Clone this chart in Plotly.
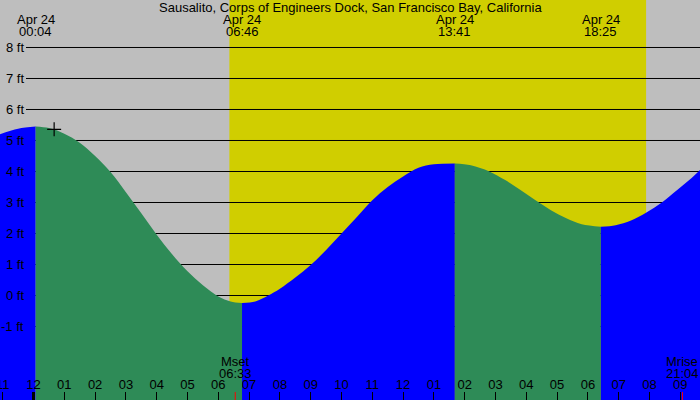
import plotly.graph_objects as go

# ---------------- data ----------------
title_text = "Sausalito, Corps of Engineers Dock, San Francisco Bay, California"

# hours since local midnight, Apr 24  /  tide height in ft
tide_hours = [-1.09, -0.5, 0.07, 0.5, 1.0, 1.5, 2.0, 2.5, 3.0, 3.5, 4.0, 4.5, 5.0, 5.5, 6.0, 6.4, 6.77,
              7.2, 7.62, 8.0, 8.5, 9.0, 9.5, 10.0, 10.5, 11.0, 11.5, 12.0, 12.5, 13.0, 13.68,
              14.2, 14.8, 15.3, 15.8, 16.3, 16.8, 17.3, 17.8, 18.42,
              18.9, 19.4, 19.9, 20.4, 20.9, 21.3, 21.64]
tide_feet = [5.20, 5.38, 5.45, 5.40, 5.22, 4.93, 4.50, 3.98, 3.33, 2.65, 1.96, 1.33, 0.78, 0.33, -0.03, -0.19, -0.24,
             -0.19, 0.00, 0.22, 0.58, 0.98, 1.47, 2.00, 2.53, 3.07, 3.50, 3.84, 4.12, 4.23, 4.26,
             4.20, 4.00, 3.73, 3.41, 3.07, 2.75, 2.49, 2.30, 2.22,
             2.27, 2.42, 2.68, 3.00, 3.40, 3.73, 4.05]

extreme_hours = [0.07, 6.77, 13.68, 18.42]
extreme_dates = ["Apr 24", "Apr 24", "Apr 24", "Apr 24"]
extreme_times = ["00:04", "06:46", "13:41", "18:25"]

sunrise_hour = 6.36
sunset_hour = 19.89

moon_hours = [6.55, 21.07]
moon_names = ["Mset", "Mrise"]
moon_times = ["06:33", "21:04"]

now_hour = 0.67
now_feet = 5.36

tick_hours = list(range(-1, 22))
tick_labels = ["11", "12", "01", "02", "03", "04", "05", "06", "07", "08", "09", "10", "11",
               "12", "01", "02", "03", "04", "05", "06", "07", "08", "09"]

ft_levels = [-1, 0, 1, 2, 3, 4, 5, 6, 7, 8]
ft_labels = ["-1 ft", "0 ft", "1 ft", "2 ft", "3 ft", "4 ft", "5 ft", "6 ft", "7 ft", "8 ft"]

# ---------------- styling ----------------
W, H = 700, 400
X_RANGE = [-1.088, 21.64]
Y_RANGE = [-3.371, 9.532]
FONT = "Liberation Sans"
NIGHT = "#BEBEBE"
DAY = "#D0CE00"
RISE = "#0000FF"
FALL = "#2E8B57"
BASE = -4.0


def py(pix):
    """pixel row from top -> paper y"""
    return 1 - pix / H


def px(pix):
    return pix / W


fig = go.Figure()

# split the tide curve at high/low waters, one filled trace per segment
cuts = [0] + [tide_hours.index(h) for h in extreme_hours] + [len(tide_hours) - 1]
for a, b in zip(cuts[:-1], cuts[1:]):
    if b <= a:
        continue
    xs = tide_hours[a:b + 1]
    ys = tide_feet[a:b + 1]
    color = RISE if ys[-1] > ys[0] else FALL
    fig.add_trace(go.Scatter(x=[xs[0], xs[-1]], y=[BASE, BASE], mode="lines",
                             line=dict(width=0, color=color), hoverinfo="skip", showlegend=False))
    fig.add_trace(go.Scatter(x=xs, y=ys, mode="lines", line=dict(width=0, color=color, shape="spline"),
                             fill="tonexty", fillcolor=color, hoverinfo="skip", showlegend=False))

# "now" marker
fig.add_trace(go.Scatter(x=[now_hour], y=[now_feet], mode="markers",
                         marker=dict(symbol="cross-thin", size=10, line=dict(color="black", width=1.2)),
                         hoverinfo="skip", showlegend=False))

shapes = []
# daylight band
shapes.append(dict(type="rect", xref="x", yref="paper", x0=sunrise_hour, x1=sunset_hour, y0=0, y1=1,
                   fillcolor=DAY, line=dict(width=0), layer="below"))
# depth lines
for v in ft_levels:
    shapes.append(dict(type="line", xref="paper", yref="y", x0=px(26), x1=1, y0=v, y1=v,
                       line=dict(color="black", width=1), layer="below"))
# midnight tick (thicker)
shapes.append(dict(type="line", xref="x", yref="paper", x0=0, x1=0, y0=0, y1=8 / H,
                   line=dict(color="black", width=3), layer="above"))
# moon event ticks
for mh in moon_hours:
    shapes.append(dict(type="line", xref="x", yref="paper", x0=mh, x1=mh, y0=0, y1=8 / H,
                       line=dict(color="red", width=1), layer="above"))

TXT = dict(size=13, color="black", family=FONT)
ann = []
ann.append(dict(text=title_text, xref="paper", yref="paper", x=0.5, y=py(7.5), xanchor="center",
                yanchor="middle", showarrow=False, borderpad=0, font=TXT))
for h, d, t in zip(extreme_hours, extreme_dates, extreme_times):
    ann.append(dict(text=d, xref="x", yref="paper", x=h, y=py(19.5), xanchor="center", yanchor="middle",
                    showarrow=False, borderpad=0, font=TXT))
    ann.append(dict(text=t, xref="x", yref="paper", x=h, y=py(32), xanchor="center", yanchor="middle",
                    showarrow=False, borderpad=0, font=TXT))
for mh, n, t in zip(moon_hours, moon_names, moon_times):
    ann.append(dict(text=n, xref="x", yref="paper", x=mh, y=py(361.5), xanchor="center", yanchor="middle",
                    showarrow=False, borderpad=0, font=TXT))
    ann.append(dict(text=t, xref="x", yref="paper", x=mh, y=py(373.5), xanchor="center", yanchor="middle",
                    showarrow=False, borderpad=0, font=TXT))
for v, lab in zip(ft_levels, ft_labels):
    ann.append(dict(text=lab, xref="paper", yref="y", x=px(25), y=v, xanchor="right", yanchor="middle",
                    showarrow=False, borderpad=0, font=TXT))

fig.update_layout(
    width=W, height=H, margin=dict(l=0, r=0, t=0, b=0, autoexpand=False),
    paper_bgcolor=NIGHT, plot_bgcolor=NIGHT,
    showlegend=False, shapes=shapes, annotations=ann,
    font=dict(family=FONT, size=13, color="black"),
    xaxis=dict(range=X_RANGE, showgrid=False, zeroline=False, showline=False, automargin=False,
               tickmode="array", tickvals=tick_hours, ticktext=tick_labels,
               ticks="inside", ticklen=8, tickwidth=1, tickcolor="black",
               ticklabelposition="inside", ticklabeloverflow="allow",
               tickfont=dict(size=13, color="black", family=FONT), fixedrange=True),
    yaxis=dict(range=Y_RANGE, showgrid=False, zeroline=False, showline=False, automargin=False,
               showticklabels=False, ticks="", fixedrange=True),
)

fig.write_html("out.html", config={"displayModeBar": False},
               post_script="document.body.style.margin='0';document.body.style.overflow='hidden';")
